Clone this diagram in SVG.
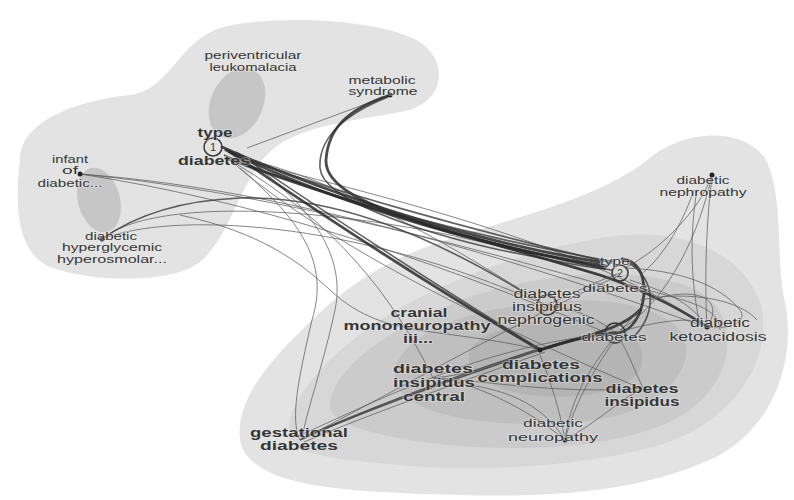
<svg xmlns="http://www.w3.org/2000/svg" width="794" height="500" viewBox="0 0 794 500">
<defs>
<style>
.b1{fill:#e3e3e3}
.b2{fill:#d7d7d7}
.b3{fill:#cbcbcb}
.b4{fill:#bfbfbf}
.b5{fill:#b4b4b4}
.bd{fill:#c6c6c6}
.e{fill:none;stroke:#5c5c5c;stroke-width:1;stroke-opacity:.75}
.t{fill:none;stroke:#2a2a2a;stroke-width:2.8;stroke-opacity:.85;stroke-linecap:round}
.m{fill:none;stroke:#3a3a3a;stroke-width:1.6;stroke-opacity:.8}
.l{font-family:"Liberation Sans",Arial,sans-serif;fill:#363636;text-anchor:middle;stroke:#e8e8e8;stroke-width:1.5;stroke-opacity:.5;paint-order:stroke}
.s{font-size:11px}
.g{font-size:12px;font-weight:bold}
.dot{fill:#222}
.ring{fill:none;stroke:#3a3a3a;stroke-width:1.5}
</style>
</defs>
<rect width="794" height="500" fill="#ffffff"/>
<g id="regions">
<path class="b1" d="M20,160 C20,120 80,100 130,95 C170,90 178,42 220,28 C270,14 380,18 420,42 C450,62 445,105 400,112 C360,120 300,125 272,150 C240,178 232,235 200,262 C170,285 90,282 50,267 C15,252 15,200 20,160 Z"/>
<ellipse class="bd" cx="237" cy="103" rx="26" ry="37" transform="rotate(25 237 103)"/>
<ellipse class="bd" cx="99" cy="200" rx="21" ry="33" transform="rotate(-15 99 200)"/>
<path class="b1" d="M240,440 C235,400 270,360 310,322 C340,292 380,262 440,242 C520,216 600,198 650,158 C680,132 740,124 765,158 C785,195 775,262 785,302 C795,352 780,420 720,455 C650,490 560,498 460,495 C380,493 300,490 265,470 C248,460 242,452 240,440 Z"/>
<path class="b2" d="M290,440 C280,410 320,360 380,320 C440,282 520,252 600,238 C680,224 742,252 760,302 C775,352 740,420 660,445 C580,468 470,472 400,465 C340,460 296,455 290,440 Z"/>
<path class="b3" d="M330,402 C338,362 400,322 470,297 C540,274 630,264 690,287 C740,307 740,372 690,410 C640,446 540,452 460,446 C390,440 325,426 330,402 Z"/>
<path class="b4" d="M395,370 C400,340 450,315 520,305 C590,295 650,300 680,330 C700,360 670,400 620,415 C560,430 470,425 430,410 C405,400 392,388 395,370 Z"/>
<path class="b5" d="M470,350 C480,330 530,318 580,320 C630,322 650,345 640,370 C625,395 570,400 530,395 C490,390 462,370 470,350 Z"/>
</g>
<g id="connectors">
<path class="e" d="M80,174 C250,190 450,240 620,290"/>
<path class="e" d="M80,174 C250,200 420,255 600,330"/>
<path class="e" d="M80,174 C230,185 420,225 700,325"/>
<path class="e" d="M102,239 C150,200 300,205 450,235 C520,250 580,270 615,280"/>
<path class="e" d="M102,239 C170,212 350,218 545,305"/>
<path class="m" d="M102,239 C140,212 190,200 240,198 C330,196 420,230 520,290"/>
<path class="e" d="M240,168 C300,220 330,262 312,320 C298,380 290,420 300,440"/>
<path class="e" d="M255,165 C320,215 345,262 335,310 C322,370 305,415 302,440"/>
<path class="e" d="M180,215 C260,232 300,262 330,290 C360,318 390,325 418,330"/>
<path class="e" d="M238,165 C330,220 390,290 433,378"/>
<path class="e" d="M230,160 C320,240 480,320 640,388"/>
<path class="e" d="M240,160 C400,200 600,250 707,327"/>
<path class="e" d="M250,160 C330,180 420,225 545,305"/>
<path class="e" d="M390,95 L247,148"/>
<path class="m" d="M388,97 C350,112 318,135 320,168 C322,200 420,232 500,250 C560,262 590,268 612,270"/>
<path class="t" d="M390,95 C345,110 328,130 326,160 C325,185 360,205 450,232 C520,250 570,262 605,268"/>
<path class="t" d="M222,147 C300,182 450,238 600,262"/>
<path class="t" d="M226,150 C310,192 460,244 606,266"/>
<path class="m" d="M228,152 C320,188 470,230 612,263"/>
<path class="m" d="M224,155 C330,200 480,238 615,262"/>
<path class="t" d="M226,158 C350,205 500,245 600,275 C650,292 690,315 707,327"/>
<path class="t" d="M230,152 C300,200 420,280 540,350"/>
<path class="m" d="M236,152 C310,202 430,282 540,349"/>
<path class="t" d="M540,350 C570,340 595,334 615,333"/>
<path class="t" d="M540,350 C590,334 620,330 640,310"/>
<path class="t" d="M622,259 C645,262 648,290 640,312 C633,328 625,333 615,333"/>
<path class="m" d="M627,262 C660,280 655,320 630,340"/>
<path class="m" d="M300,440 C360,412 450,380 540,350"/>
<path class="m" d="M302,438 C365,410 455,376 542,348"/>
<path class="e" d="M304,442 C370,414 460,382 545,352"/>
<path class="e" d="M300,440 C380,400 500,330 620,275"/>
<path class="e" d="M298,436 C370,405 480,345 615,333"/>
<path class="e" d="M712,175 C700,210 660,250 625,268"/>
<path class="e" d="M712,175 C700,230 670,300 620,330"/>
<path class="e" d="M712,178 C705,230 705,290 707,327"/>
<path class="e" d="M694,190 C680,230 660,260 640,275"/>
<path class="e" d="M697,190 C690,230 690,280 700,325"/>
<path class="e" d="M707,327 C690,300 660,290 630,280"/>
<path class="e" d="M707,327 C725,300 700,285 650,300"/>
<path class="e" d="M625,268 C680,270 720,285 740,310 C748,322 730,330 707,327"/>
<path class="e" d="M640,300 C690,290 740,300 757,320"/>
<path class="e" d="M615,333 C660,320 700,315 707,327"/>
<path class="e" d="M630,285 C680,300 720,305 720,330"/>
<path class="e" d="M565,440 C560,410 550,380 540,355"/>
<path class="e" d="M565,440 C575,400 600,360 615,340"/>
<path class="e" d="M565,440 C540,400 500,390 470,385"/>
<path class="e" d="M565,440 C530,410 470,380 433,378"/>
<path class="e" d="M565,440 C600,420 620,400 640,390"/>
<path class="e" d="M565,440 C570,400 590,360 640,310"/>
<path class="e" d="M433,378 C470,375 510,360 540,350"/>
<path class="e" d="M433,378 C480,380 560,395 643,388"/>
<path class="e" d="M540,350 C500,340 450,335 418,330"/>
<path class="e" d="M547,305 C580,310 600,320 615,333"/>
<path class="e" d="M547,305 C580,290 600,280 620,273"/>
<path class="e" d="M643,388 C630,360 625,345 615,333"/>
</g>
<g id="n-periventricular">
<text class="l s" x="253" y="59" textLength="97" lengthAdjust="spacingAndGlyphs">periventricular</text>
<text class="l s" x="253" y="71" textLength="87" lengthAdjust="spacingAndGlyphs">leukomalacia</text>
</g>
<g id="n-metabolic">
<circle class="dot" cx="390" cy="95" r="2.5"/>
<text class="l s" x="382" y="84" textLength="67" lengthAdjust="spacingAndGlyphs">metabolic</text>
<text class="l s" x="383" y="95" textLength="69" lengthAdjust="spacingAndGlyphs">syndrome</text>
</g>
<g id="n-type1">
<circle class="ring" cx="213" cy="147" r="9"/>
<text class="l g" x="215" y="137" font-size="14" textLength="35" lengthAdjust="spacingAndGlyphs">type</text>
<text class="l" x="213" y="151" font-size="11">1</text>
<text class="l g" x="214" y="165" textLength="72" lengthAdjust="spacingAndGlyphs">diabetes</text>
</g>
<g id="n-infant">
<circle class="dot" cx="80" cy="174" r="2.5"/>
<text class="l" font-size="10" x="70" y="163" textLength="36" lengthAdjust="spacingAndGlyphs">infant</text>
<text class="l" font-size="10" x="70" y="174" textLength="16" lengthAdjust="spacingAndGlyphs">of</text>
<text class="l" font-size="10" x="70" y="187" textLength="65" lengthAdjust="spacingAndGlyphs">diabetic...</text>
</g>
<g id="n-hyperglycemic">
<circle class="dot" cx="102" cy="239" r="2.5"/>
<text class="l" font-size="10" x="111" y="240" textLength="52" lengthAdjust="spacingAndGlyphs">diabetic</text>
<text class="l" font-size="10" x="112" y="251" textLength="100" lengthAdjust="spacingAndGlyphs">hyperglycemic</text>
<text class="l" font-size="10" x="112" y="263" textLength="110" lengthAdjust="spacingAndGlyphs">hyperosmolar...</text>
</g>
<g id="n-nephropathy">
<circle class="dot" cx="712" cy="175" r="2.5"/>
<text class="l s" x="703" y="184" textLength="53" lengthAdjust="spacingAndGlyphs">diabetic</text>
<text class="l s" x="703" y="196" textLength="87" lengthAdjust="spacingAndGlyphs">nephropathy</text>
</g>
<g id="n-type2">
<circle class="ring" cx="620" cy="273" r="8"/>
<text class="l s" x="615" y="265" textLength="30" lengthAdjust="spacingAndGlyphs">type</text>
<text class="l" x="620" y="277" font-size="10">2</text>
<text class="l s" x="615" y="292" textLength="65" lengthAdjust="spacingAndGlyphs">diabetes</text>
</g>
<g id="n-nephrogenic">
<circle class="ring" cx="547" cy="305" r="10"/>
<text class="l" font-size="12" x="547" y="298" textLength="67" lengthAdjust="spacingAndGlyphs">diabetes</text>
<text class="l" font-size="12" x="547" y="311" textLength="70" lengthAdjust="spacingAndGlyphs">insipidus</text>
<text class="l" font-size="12" x="546" y="324" textLength="97" lengthAdjust="spacingAndGlyphs">nephrogenic</text>
</g>
<g id="n-cranial">
<text class="l g" x="419" y="317" textLength="57" lengthAdjust="spacingAndGlyphs">cranial</text>
<text class="l g" x="417" y="330" textLength="147" lengthAdjust="spacingAndGlyphs">mononeuropathy</text>
<text class="l g" x="418" y="343" textLength="30" lengthAdjust="spacingAndGlyphs">iii...</text>
</g>
<g id="n-diabetes">
<circle class="ring" cx="615" cy="333" r="10"/>
<text class="l s" x="614" y="341" textLength="65" lengthAdjust="spacingAndGlyphs">diabetes</text>
</g>
<g id="n-ketoacidosis">
<circle class="dot" cx="707" cy="327" r="2.5"/>
<text class="l" font-size="12" x="720" y="327" textLength="60" lengthAdjust="spacingAndGlyphs">diabetic</text>
<text class="l" font-size="12" x="718" y="341" textLength="97" lengthAdjust="spacingAndGlyphs">ketoacidosis</text>
</g>
<g id="n-central">
<text class="l g" x="433" y="373" textLength="80" lengthAdjust="spacingAndGlyphs">diabetes</text>
<text class="l g" x="434" y="387" textLength="82" lengthAdjust="spacingAndGlyphs">insipidus</text>
<text class="l g" x="434" y="401" textLength="62" lengthAdjust="spacingAndGlyphs">central</text>
</g>
<g id="n-complications">
<circle class="dot" cx="540" cy="350" r="2.5"/>
<text class="l g" x="541" y="369" textLength="78" lengthAdjust="spacingAndGlyphs">diabetes</text>
<text class="l g" x="540" y="382" textLength="125" lengthAdjust="spacingAndGlyphs">complications</text>
</g>
<g id="n-insipidus">
<text class="l g" x="642" y="393" textLength="73" lengthAdjust="spacingAndGlyphs">diabetes</text>
<text class="l g" x="642" y="406" textLength="75" lengthAdjust="spacingAndGlyphs">insipidus</text>
</g>
<g id="n-gestational">
<text class="l g" x="299" y="437" textLength="98" lengthAdjust="spacingAndGlyphs">gestational</text>
<text class="l g" x="299" y="450" textLength="78" lengthAdjust="spacingAndGlyphs">diabetes</text>
</g>
<g id="n-neuropathy">
<circle class="dot" cx="565" cy="440" r="2.5"/>
<text class="l s" x="553" y="427" textLength="60" lengthAdjust="spacingAndGlyphs">diabetic</text>
<text class="l s" x="553" y="441" textLength="90" lengthAdjust="spacingAndGlyphs">neuropathy</text>
</g>
</svg>
